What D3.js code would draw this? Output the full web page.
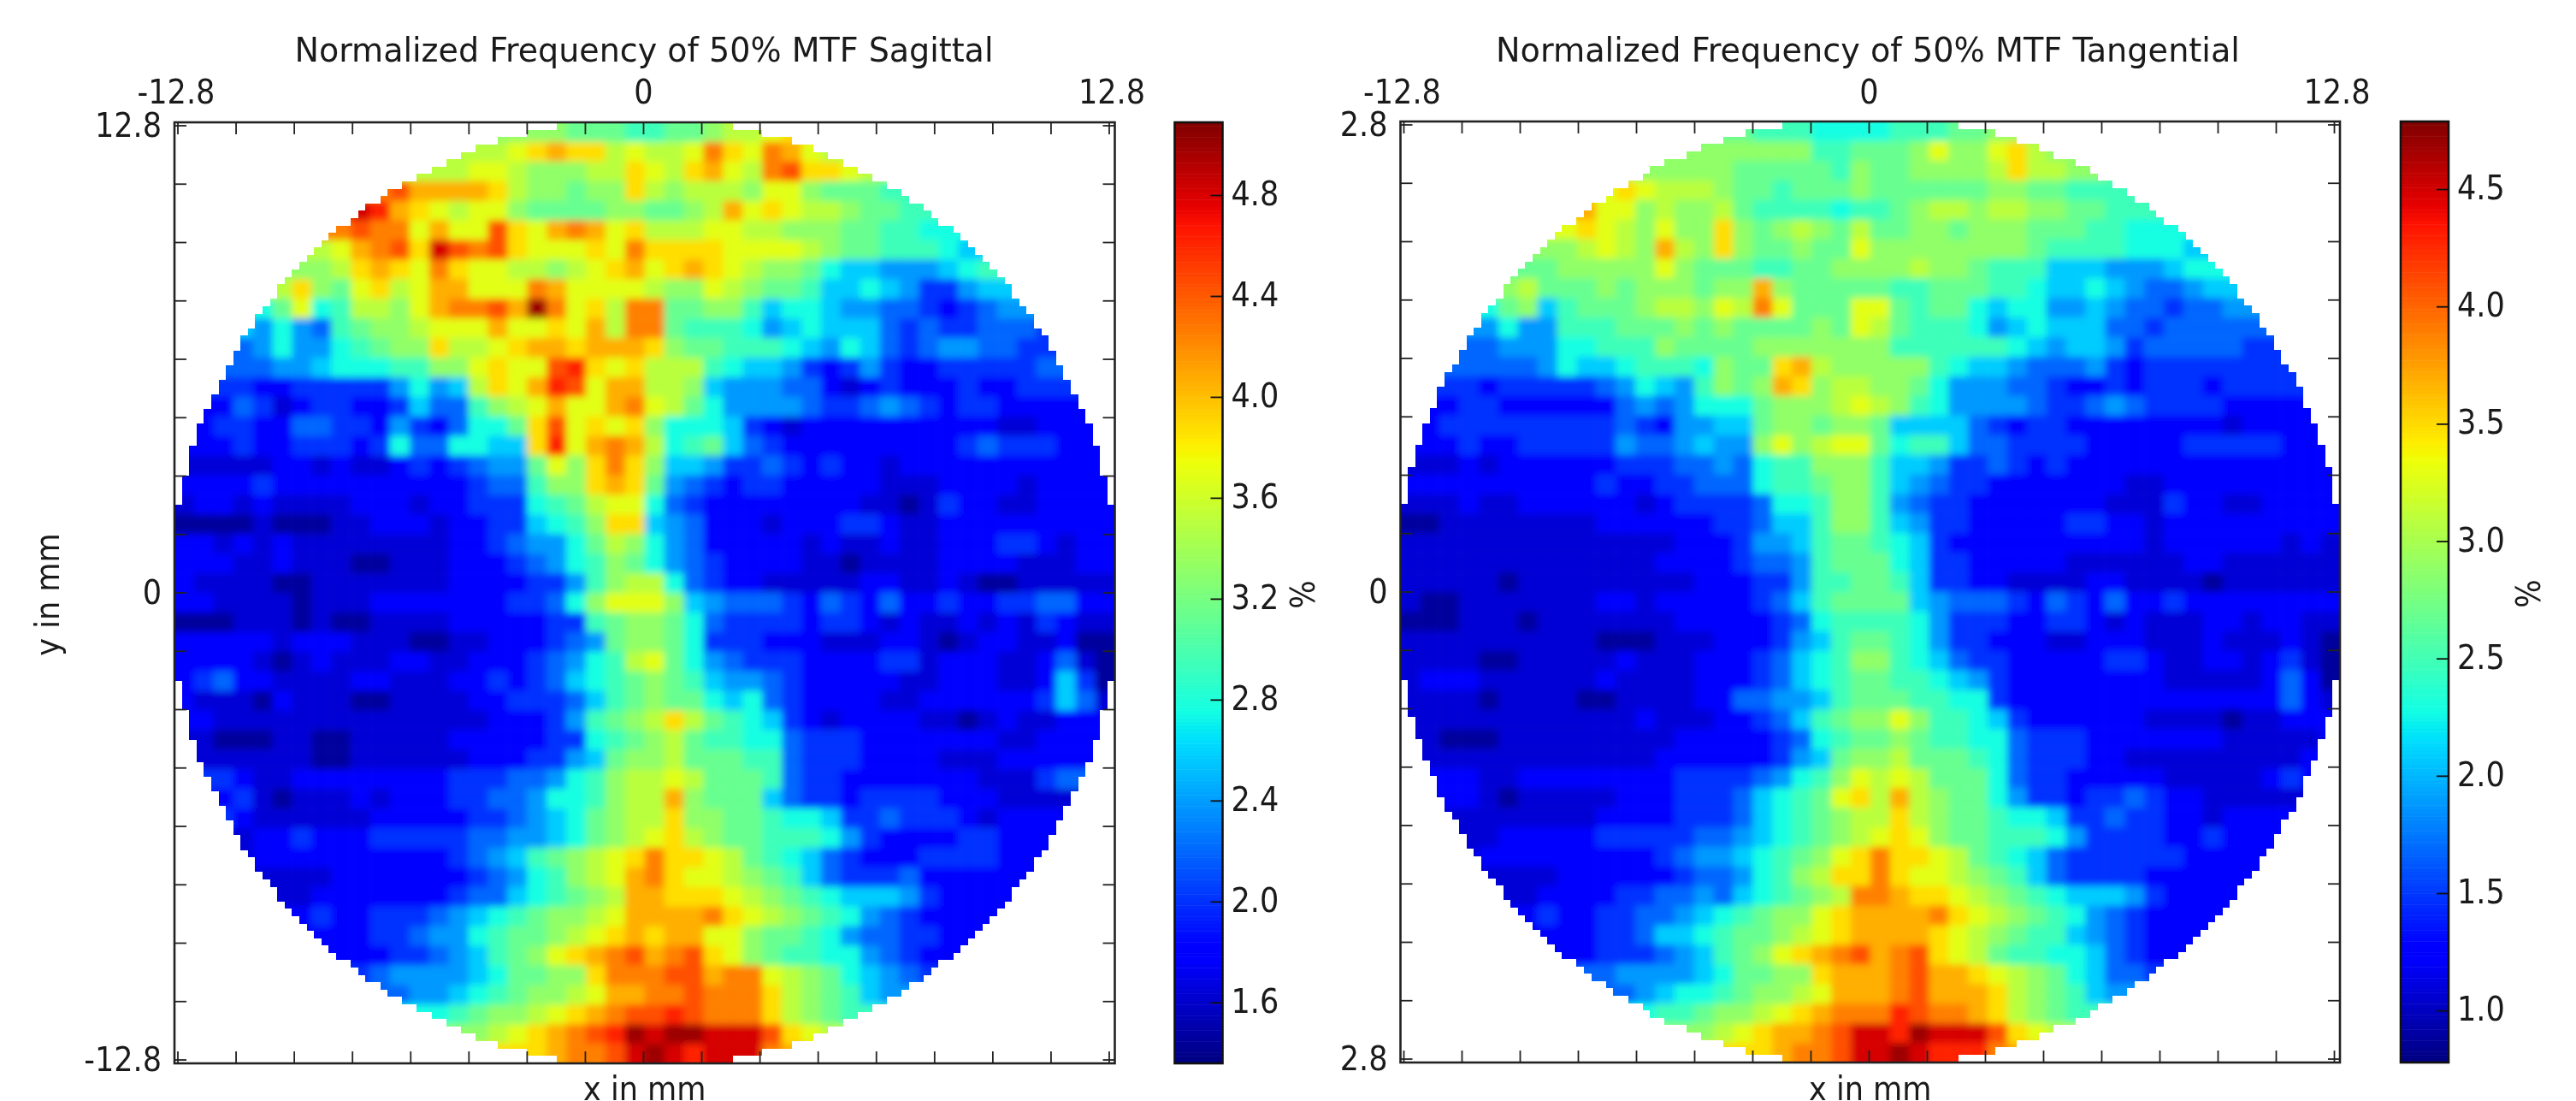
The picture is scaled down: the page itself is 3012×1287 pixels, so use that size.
<!DOCTYPE html>
<html>
<head>
<meta charset="utf-8">
<script src="https://cdn.jsdelivr.net/npm/d3@7"></script>
<style>
html, body { margin: 0; padding: 0; background: #fff; }
svg { display: block; }
text { font-family: "DejaVu Sans Condensed", "DejaVu Sans", sans-serif; font-stretch: condensed; fill: #1a1a1a; }
</style>
</head>
<body>
<div id="chart"></div>
<script>
// one char per cell, 48 x 48, spaces are only there to keep the columns readable
// 0 = bottom of the colour range, j = top of it (20 steps)
var levelChars = "0123456789abcdefghij";

var sagittalRows = [
"aaaaaaaa aaaaaaaa aaaa9998 899abbcd dddddddd dddddddd",
"bbbbbbbb bbbbbbbb bcdeddbc bbcfdcfe cbbbbbbb bbbbbbbb",
"bbbbbbbb bbbbbbbc cbaaabbd cbdecbfg ddcbbbbb bbbbbbbb",
"ffffffff fffgeeee dbaa9aad babbbacc a9998888 88888888",
"hhhhhhhh hihedcbc ca9999aa 99abecdc bba99888 88888888",
"ffffffff fgffcecc gdcefecd bbbccbba aa998877 77777777",
"bbbbbbbb cefgdigf gdcccdcf ddddcccc ba998887 66666666",
"aaaaaaaa bdedcfdc cbbabcde cdedcbaa 97665556 78888888",
"bbbbbbda 9cdbceec ccfecccc baacba99 86676533 56666666",
"777779c7 8bbaceff gejfcdbf f99aa867 76554432 34555555",
"66665754 89aabccc eccdcebf f9888756 76664343 34443333",
"44445755 789aadbb cdeedeee da998887 65764345 54433333",
"44444556 77788aac dccghdcd bbb87665 32353223 33334444",
"33332233 3335756b dcehgcee bba65554 42123222 32233333",
"22243123 32236448 abceccef cb975555 43345432 33222222",
"22332244 33253247 79dgcdcd a7776321 22222222 22112222",
"22232233 32374477 66dhcefe b7896432 22222222 34333222",
"11111221 21123234 559cadfd a6653343 23221222 22222222",
"22223222 22222223 448aaded 95432332 22221112 22212222",
"12212111 12221223 33789bcc 74322222 22211013 22112222",
"00001000 11222122 33678add 65422212 22332112 22222222",
"22121211 11111122 345579ba 75422222 12112112 22332122",
"22211211 10011122 234578a9 75432222 11011112 22211122",
"21111001 11111122 223358ab b7432211 11122112 10011111",
"22111101 11222222 23347acc ca654443 24324223 22334422",
"00011101 00111122 2223389a a9743333 23321211 21213211",
"22222122 21110011 2223459a a9733322 21112210 12211200",
"22221012 11122112 2234578b c9754333 22223312 22112410",
"23422111 12211122 32346789 a9865543 22222112 22112630",
"21110211 10011112 23334689 a9976743 22221122 22223641",
"22111111 11111111 2223589a bdb98763 21222211 01211222",
"11000110 01111122 22233789 ab988774 33322222 22112222",
"11111110 01111112 2233569a ab999884 33322221 11222222",
"33321122 22222233 344578ab bcb99984 33222222 21113444",
"22231011 12122233 445778ab bea99964 33233332 22111111",
"33321111 11222223 345679ab bdaa9987 76334333 21222211",
"11112232 22333334 455679ab cdba9988 87532222 33222222",
"11112222 22222234 5689abcd fddcb987 64322233 33222222",
"11111111 22222223 4578abce fdccba98 64333422 22222222",
"11111112 22222234 46789abe edddcba9 87666532 22222222",
"22222223 22333456 789aabce eeefdcba 98754322 22222222",
"22222222 22334557 899abcde deecca99 87544332 22222222",
"22222222 22233456 89acdefg efgdca98 87754322 22222222",
"33333333 33455556 799aadff fggeffcb a9765433 33333333",
"44444444 44445567 89aabcee ffgfffdb a9865555 55555555",
"77777777 77777789 aabcdefg ghgfffdb a9888888 88888888",
"aaaaaaaa aaaaaaaa bcdefghj ijjiiigd cbbbbbbb bbbbbbbb",
"dddddddd dddddddd dddeffgi jihiiife eeeeeeee eeeeeeee"
];

var tangentialRows = [
"99999999 99999999 99888777 788899aa aaaaaaaa aaaaaaaa",
"aaaaaaaa aaaaaaaa aaaaa889 99acaacd baaaaaaa aaaaaaaa",
"aaaaaaaa aaaaaaaa a999998a 99aaaabd bbaa9999 99999999",
"cccccccc cccdcbbb a998999a 999999aa 99888888 88888888",
"eeeeeeee eeccabaa b9888878 89abbabb aa998887 77777777",
"cccccccc cdcbacaa da9aba9b 99aa9aaa 99988777 77777777",
"aaaaaaaa abcbaeba da99a99c aaaaaaaa 98888777 66666666",
"99999999 aaaaaca9 998899aa aabaa988 86665556 77777777",
"aaaaaab9 99a9aaa9 aaea9999 98899988 76676544 56666666",
"777779a6 8999abba cbfc999c c9899767 75565443 44555555",
"55555755 888999a9 a9999a9c b9888756 76664434 44444333",
"44444555 77888a99 99aaaaaa a8888887 65665344 44433333",
"44444445 76678887 a99debaa aaa87665 44453233 33333334",
"33332333 33457658 a9aedabb aa975554 43223233 32333333",
"22233222 22245457 779aaabc ba875555 43345433 33222222",
"22333333 33343255 669aa9aa 96666432 33222222 22122222",
"22232233 33354456 55acabcc 97886443 33322222 33333222",
"11121222 22233344 54788aaa 86653343 23222222 22222222",
"22222222 22322334 447889aa 86543322 22222112 22222222",
"11121122 22221233 334778aa 85433222 22221113 22112222",
"00111111 11222222 334668aa 86533222 22332212 22222222",
"11111111 11111122 23556899 87632222 22222212 22222121",
"11111111 11111222 23445899 97633222 22111111 22111111",
"11111011 11111112 22335889 98633221 11122111 10111111",
"10011111 11221222 22346899 99654443 24324223 22222222",
"00011101 11111122 22234788 88753332 23321211 12212211",
"11111111 11000111 22235689 98753322 21122211 12111210",
"11110011 11121112 2234678a a8764332 22223321 12212310",
"12221111 11211112 22346789 98876532 22222221 11112420",
"11110111 10011112 24455689 99887732 22222222 22222421",
"11111111 11112111 2234689a aca88763 22222211 11011222",
"11000111 11111122 22234789 9a988774 33322222 22111112",
"11111111 11111222 2223569a ab999874 33322111 11111122",
"22221122 22222233 334578ac bcb99974 33222221 11112322",
"22221011 11122233 346789cd beba9975 33233432 21111111",
"11111111 11222233 346789ab bdba9987 76334332 21222211",
"11111222 22333334 456789ab cdca9988 87533332 23222222",
"11112222 22222345 56789acd fddcb987 64333333 22222222",
"11111111 22222234 4578abdd fdccba98 64333322 22222222",
"11111112 22233445 46789abf feddcba9 87666532 22222222",
"22222223 22334456 789aacde eeefdcba 98754322 22222222",
"22222222 22334667 899abcde eeedcba9 88654322 22222222",
"22222222 22333456 89acdefg efgdcb98 87764322 22222222",
"33333333 34455556 799aadee efgeedcb a9764433 33333333",
"44444444 44445677 89aabcee efgeeedb a9865555 55555555",
"77777777 77777889 aabcdeff fhgffedb a9888888 88888888",
"aaaaaaaa aaaaaaaa bcdeefgi ihjiiigd cbbbbbbb bbbbbbbb",
"dddddddd dddddddd dddeffgi ijihhhfe eeeeeeee eeeeeeee"
];

var sagittalRange = [1.36, 5.09];
var tangentialRange = [0.78, 4.79];
var sagittalCbarTicks = [1.6, 2.0, 2.4, 2.8, 3.2, 3.6, 4.0, 4.4, 4.8];
var tangentialCbarTicks = [1.0, 1.5, 2.0, 2.5, 3.0, 3.5, 4.0, 4.5];
var axisTicks = d3.range(-8, 9).map(d => d * 1.6);
var sagittalYLabels = ["-12.8", "0", "12.8"];
var tangentialYLabels = ["2.8", "0", "2.8"]; // the 1 is cut off in the original

var svgWidth = 3012;
var svgHeight = 1287;
var fontSize = 39;

var svg = d3.select("#chart")
    .append("svg")
    .attr("width", svgWidth)
    .attr("height", svgHeight)
    .style("filter", "blur(0.7px)");

// soft look of the upscaled image
var blur = svg.append("filter")
    .attr("id", "soft")
    .attr("filterUnits", "userSpaceOnUse")
    .attr("x", 0).attr("y", 0)
    .attr("width", svgWidth).attr("height", svgHeight);
blur.append("feGaussianBlur").attr("stdDeviation", 4.5);

// matplotlib jet
var jetR = d3.scaleLinear().domain([0, 0.35, 0.66, 0.89, 1]).range([0, 0, 1, 1, 0.5]).clamp(true);
var jetG = d3.scaleLinear().domain([0, 0.125, 0.375, 0.64, 0.91, 1]).range([0, 0, 1, 1, 0, 0]).clamp(true);
var jetB = d3.scaleLinear().domain([0, 0.11, 0.34, 0.65, 1]).range([0.5, 1, 1, 0, 0]).clamp(true);
function jet(t) {
    return d3.rgb(jetR(t) * 255, jetG(t) * 255, jetB(t) * 255).formatRgb();
}

function drawPanel(opts) {
    var range = opts.range;
    var box = opts.box;
    var norm = d3.scaleLinear().domain(range).range([0, 1]);
    var n = opts.rows.length;

    // rows -> values
    var cells = [];
    opts.rows.forEach(function (row, j) {
        row.replace(/ /g, "").split("").forEach(function (c, i) {
            var level = levelChars.indexOf(c);
            cells.push({
                row: j,
                col: i,
                value: range[0] + (level + 0.5) / levelChars.length * (range[1] - range[0])
            });
        });
    });

    var colScale = d3.scaleLinear().domain([0, n]).range([box.left, box.right]);
    var rowScale = d3.scaleLinear().domain([0, n]).range([box.top, box.bottom]);

    // staircase edge of the circular sensor, 128 x 128 grid of the original
    var pitch = (box.right - box.left) / 128;
    var radius = 555;
    var cx = (box.left + box.right) / 2;
    var cy = (box.top + box.bottom) / 2;
    var clipId = "disc-" + opts.id;
    var clip = svg.append("clipPath").attr("id", clipId);
    d3.range(-66, 66).forEach(function (k) {
        var dy = (k + 0.5) * pitch;
        if (Math.abs(dy) >= radius) return;
        var half = Math.round(Math.sqrt(radius * radius - dy * dy) / pitch) * pitch;
        var x0 = Math.round(Math.max(cx - half, box.left));
        var x1 = Math.round(Math.min(cx + half, box.right));
        // whole pixels, otherwise the rows leave thin seams
        var y0 = Math.round(Math.max(cy + k * pitch, box.top));
        var y1 = Math.round(Math.min(cy + (k + 1) * pitch, box.bottom));
        if (y1 <= y0) return;
        clip.append("rect").attr("x", x0).attr("y", y0).attr("width", x1 - x0).attr("height", y1 - y0);
    });

    // edge cells run out past the frame so the blur does not fade at the border
    var pad = 40;
    svg.append("g")
        .attr("clip-path", `url(#${clipId})`)
        .append("g")
        .attr("filter", "url(#soft)")
        .selectAll("rect")
        .data(cells)
        .enter()
        .append("rect")
        .attr("x", d => colScale(d.col) - (d.col === 0 ? pad : 0))
        .attr("y", d => rowScale(d.row) - (d.row === 0 ? pad : 0))
        .attr("width", d => colScale(1) - colScale(0) + 0.5 + (d.col === 0 || d.col === n - 1 ? pad : 0))
        .attr("height", d => rowScale(1) - rowScale(0) + 0.5 + (d.row === 0 || d.row === n - 1 ? pad : 0))
        .attr("fill", d => jet(norm(d.value)));

    // axes frame + ticks, ticks go inwards on all four sides
    var xScale = d3.scaleLinear().domain([-12.8, 12.8]).range([box.left + 4, box.right - 6.5]);
    var yScale = d3.scaleLinear().domain([-12.8, 12.8]).range([box.bottom - 4, box.top + 4]);
    var tickLen = 14;

    var ticksG = svg.append("g").attr("stroke", "#222").attr("stroke-width", 1.8);
    axisTicks.forEach(function (t) {
        ticksG.append("line").attr("x1", xScale(t)).attr("x2", xScale(t)).attr("y1", box.top).attr("y2", box.top + tickLen);
        ticksG.append("line").attr("x1", xScale(t)).attr("x2", xScale(t)).attr("y1", box.bottom).attr("y2", box.bottom - tickLen);
        ticksG.append("line").attr("x1", box.left).attr("x2", box.left + tickLen).attr("y1", yScale(t)).attr("y2", yScale(t));
        ticksG.append("line").attr("x1", box.right).attr("x2", box.right - tickLen).attr("y1", yScale(t)).attr("y2", yScale(t));
    });

    svg.append("rect")
        .attr("x", box.left)
        .attr("y", box.top)
        .attr("width", box.right - box.left)
        .attr("height", box.bottom - box.top)
        .attr("fill", "none")
        .attr("stroke", "#222")
        .attr("stroke-width", 2.6);

    svg.append("text")
        .attr("x", opts.titleX)
        .attr("y", 72)
        .attr("text-anchor", "middle")
        .attr("font-size", fontSize)
        .attr("textLength", opts.titleWidth)
        .attr("lengthAdjust", "spacingAndGlyphs")
        .text(opts.title);

    // x tick labels along the top
    [-12.8, 0, 12.8].forEach(function (t, i) {
        svg.append("text")
            .attr("x", xScale(t) - (i === 0 ? 2 : 0) + (i === 2 ? 3 : 0))
            .attr("y", 121)
            .attr("text-anchor", "middle")
            .attr("font-size", fontSize)
            .text(t === 0 ? "0" : t);
    });

    // y tick labels
    [-12.8, 0, 12.8].forEach(function (t, i) {
        svg.append("text")
            .attr("x", box.left - 15)
            .attr("y", yScale(t) + 13)
            .attr("text-anchor", "end")
            .attr("font-size", fontSize)
            .text(opts.yLabels[i]);
    });

    // sits on the bottom edge of the page like in the original
    svg.append("text")
        .attr("x", (box.left + box.right) / 2)
        .attr("y", 1286)
        .attr("text-anchor", "middle")
        .attr("font-size", fontSize)
        .text("x in mm");

    // colorbar
    var cbar = opts.cbar;
    var cbarScale = d3.scaleLinear().domain(range).range([box.bottom, box.top]);
    var steps = d3.range(256).map(d => range[0] + (d + 0.5) / 256 * (range[1] - range[0]));
    svg.append("g")
        .selectAll("rect")
        .data(steps)
        .enter()
        .append("rect")
        .attr("x", cbar.left)
        .attr("width", cbar.right - cbar.left)
        .attr("y", d => cbarScale(d) - (box.bottom - box.top) / 512)
        .attr("height", (box.bottom - box.top) / 256 + 0.5)
        .attr("fill", d => jet(norm(d)));

    svg.append("rect")
        .attr("x", cbar.left)
        .attr("y", box.top)
        .attr("width", cbar.right - cbar.left)
        .attr("height", box.bottom - box.top)
        .attr("fill", "none")
        .attr("stroke", "#111")
        .attr("stroke-width", 2.6);

    opts.cbarTicks.forEach(function (t) {
        svg.append("line")
            .attr("x1", cbar.right - tickLen)
            .attr("x2", cbar.right)
            .attr("y1", cbarScale(t))
            .attr("y2", cbarScale(t))
            .attr("stroke", "#111")
            .attr("stroke-width", 1.8);
        svg.append("text")
            .attr("x", cbar.right + 10)
            .attr("y", cbarScale(t) + 11.5)
            .attr("font-size", fontSize)
            .text(t.toFixed(1));
    });

    svg.append("text")
        .attr("transform", `translate(${cbar.right + 107}, ${(box.top + box.bottom) / 2 + 2}) rotate(-90)`)
        .attr("text-anchor", "middle")
        .attr("font-size", fontSize)
        .text("%");
}

drawPanel({
    id: "sagittal",
    rows: sagittalRows,
    range: sagittalRange,
    cbarTicks: sagittalCbarTicks,
    yLabels: sagittalYLabels,
    title: "Normalized Frequency of 50% MTF Sagittal",
    titleX: 753,
    titleWidth: 817,
    box: { left: 204, right: 1303.5, top: 143, bottom: 1243 },
    cbar: { left: 1373.5, right: 1429.5 }
});

drawPanel({
    id: "tangential",
    rows: tangentialRows,
    range: tangentialRange,
    cbarTicks: tangentialCbarTicks,
    yLabels: tangentialYLabels,
    title: "Normalized Frequency of 50% MTF Tangential",
    titleX: 2184,
    titleWidth: 870,
    box: { left: 1637.5, right: 2736, top: 142, bottom: 1242 },
    cbar: { left: 2807, right: 2863 }
});

svg.append("text")
    .attr("transform", "translate(69, 695) rotate(-90)")
    .attr("text-anchor", "middle")
    .attr("font-size", fontSize)
    .text("y in mm");
</script>
</body>
</html>
